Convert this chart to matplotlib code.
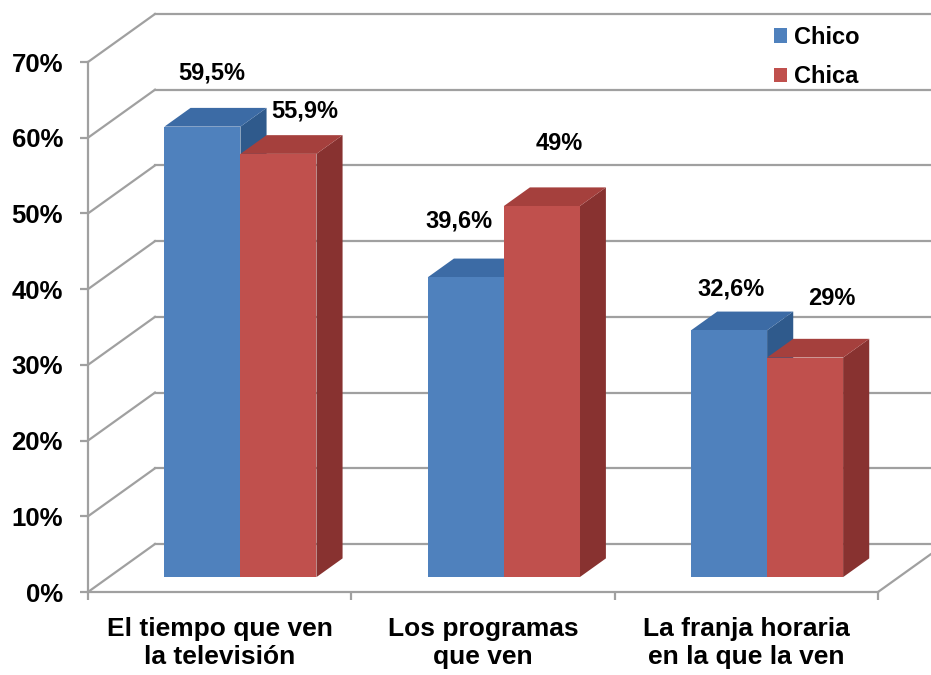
import matplotlib
matplotlib.use("Agg")
import matplotlib.pyplot as plt
from matplotlib.patches import Polygon, Patch

plt.rcParams['font.family'] = ['Liberation Sans', 'DejaVu Sans']
plt.rcParams['font.weight'] = 'bold'

# data
categories = ["El tiempo que ven\nla televisión", "Los programas\nque ven", "La franja horaria\nen la que la ven"]
series_names = ["Chico", "Chica"]
chico = [59.5, 39.6, 32.6]
chica = [55.9, 49, 29]
yticks = [0, 10, 20, 30, 40, 50, 60, 70]

# label nudges in pixels (dx, dy) for chico then chica per category
label_offsets = [[(9, 54), (26, 43)], [(-7, 56), (17, 63)], [(2, 41), (27, 59)]]

front = ['#4F81BD', '#C0504D']
top = ['#3C6BA5', '#A5403D']
side = ['#2F5A8C', '#883230']
grid_c = '#A0A0A0'

fig = plt.figure(figsize=(9.31, 6.75), dpi=100)
W, H = 931, 675
ax = fig.add_axes([88 / W, (H - 592) / H, 790 / W, 530 / H])
ax.set_xlim(0, 3)
ax.set_ylim(0, 70)

# depth vector of the 3d box, in data units
px_x = 790 / 3
px_y = 530 / 70
DX, DY = 67 / px_x, 48 / px_y
z0, z1 = 0.31, 0.70
bw = 76 / px_x

# walls and gridlines
for v in yticks:
    ax.plot([0, DX], [v, v + DY], color=grid_c, lw=1.6, clip_on=False, zorder=1)
    ax.plot([DX, 3 + DX], [v + DY, v + DY], color=grid_c, lw=1.6, clip_on=False, zorder=1)
ax.plot([3, 3 + DX], [0, DY], color=grid_c, lw=1.6, clip_on=False, zorder=1)


def box(x0, w, v, k):
    ox0, oy0 = z0 * DX, z0 * DY
    ox1, oy1 = z1 * DX, z1 * DY
    xl, xr = x0 + ox0, x0 + w + ox0
    sd = Polygon([(xr, oy0), (x0 + w + ox1, oy1), (x0 + w + ox1, v + oy1), (xr, v + oy0)],
                 closed=True, fc=side[k], ec='none', clip_on=False, zorder=3)
    tp = Polygon([(xl, v + oy0), (x0 + ox1, v + oy1), (x0 + w + ox1, v + oy1), (xr, v + oy0)],
                 closed=True, fc=top[k], ec='none', clip_on=False, zorder=3)
    fr = Polygon([(xl, oy0), (xr, oy0), (xr, v + oy0), (xl, v + oy0)],
                 closed=True, fc=front[k], ec='none', clip_on=False, zorder=3)
    for p in (sd, tp, fr):
        ax.add_patch(p)
    return (xl + xr) / 2, v + oy0


for i in range(len(categories)):
    c = i + 0.5
    for k, vals in enumerate([chico, chica]):
        x0 = c - bw if k == 0 else c
        cx, cy = box(x0, bw, vals[i], k)
        txt = f"{vals[i]:g}".replace('.', ',') + '%'
        ax.annotate(txt, (cx, cy), xytext=label_offsets[i][k], textcoords='offset pixels',
                    ha='center', va='center', fontsize=17, fontweight='bold', zorder=5)

# axes styling
for s in ['top', 'right']:
    ax.spines[s].set_visible(False)
for s in ['left', 'bottom']:
    ax.spines[s].set_color(grid_c)
    ax.spines[s].set_linewidth(1.6)
ax.set_yticks(yticks)
ax.set_yticklabels([f"{v}%" for v in yticks], fontsize=18.5, fontweight='bold')
ax.tick_params(axis='y', length=6, width=1.6, color=grid_c, pad=12)
ax.set_xticks([0, 1, 2, 3])
ax.set_xticklabels([])
ax.tick_params(axis='x', which='major', length=6, width=1.6, color=grid_c, direction='out')
ax.set_xticks([0.5, 1.5, 2.5], categories, minor=True)
ax.tick_params(axis='x', which='minor', length=0, pad=18, labelsize=19)
for t in ax.get_xticklabels(minor=True):
    t.set_fontweight('bold')
ax.patch.set_alpha(0)

handles = [Patch(fc=front[0], ec='none'), Patch(fc=front[1], ec='none')]
fig.legend(handles, series_names, loc='upper left', bbox_to_anchor=(762 / W, 1 - 14 / H),
           frameon=False, prop={'size': 17, 'weight': 'bold'}, handlelength=0.55,
           handleheight=0.55, handletextpad=0.3, labelspacing=0.7, borderpad=0)

fig.savefig("out.png", dpi=100)
